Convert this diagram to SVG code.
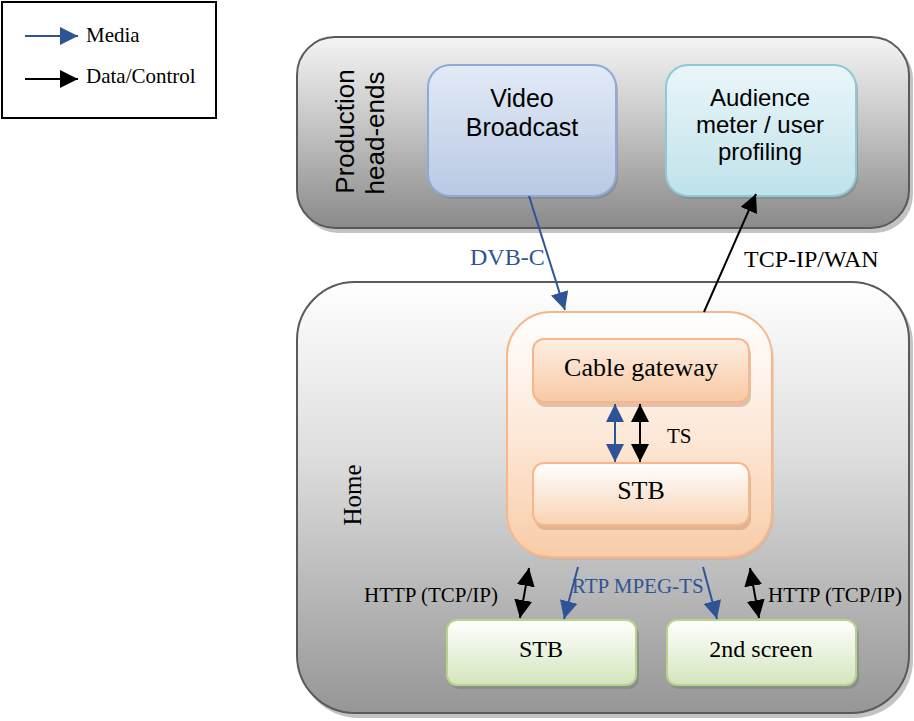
<svg xmlns="http://www.w3.org/2000/svg" width="914" height="721" viewBox="0 0 914 721">
<defs>
  <linearGradient id="gGray" x1="0" y1="0" x2="0" y2="1">
    <stop offset="0" stop-color="#f4f4f4"/>
    <stop offset="0.45" stop-color="#c6c6c6"/>
    <stop offset="1" stop-color="#8a8a8a"/>
  </linearGradient>
  <linearGradient id="gHome" x1="0" y1="0" x2="0" y2="1">
    <stop offset="0" stop-color="#ffffff"/>
    <stop offset="0.4" stop-color="#dedede"/>
    <stop offset="1" stop-color="#969696"/>
  </linearGradient>
  <linearGradient id="gBlue" x1="0" y1="0" x2="0" y2="1">
    <stop offset="0" stop-color="#e2eaf6"/>
    <stop offset="1" stop-color="#b9c9e4"/>
  </linearGradient>
  <linearGradient id="gCyan" x1="0" y1="0" x2="0" y2="1">
    <stop offset="0" stop-color="#eaf6f9"/>
    <stop offset="1" stop-color="#bfe2ea"/>
  </linearGradient>
  <linearGradient id="gOrangeOuter" x1="0" y1="0" x2="0" y2="1">
    <stop offset="0" stop-color="#ffffff"/>
    <stop offset="0.5" stop-color="#fde8d8"/>
    <stop offset="1" stop-color="#f9cca8"/>
  </linearGradient>
  <linearGradient id="gOrange" x1="0" y1="0" x2="0" y2="1">
    <stop offset="0" stop-color="#fdefe4"/>
    <stop offset="1" stop-color="#f8c8a2"/>
  </linearGradient>
  <linearGradient id="gOrange2" x1="0" y1="0" x2="0" y2="1">
    <stop offset="0" stop-color="#ffffff"/>
    <stop offset="1" stop-color="#f9d2b3"/>
  </linearGradient>
  <linearGradient id="gGreen" x1="0" y1="0" x2="0" y2="1">
    <stop offset="0" stop-color="#ffffff"/>
    <stop offset="1" stop-color="#d3e5bc"/>
  </linearGradient>
  <marker id="mBlueL" viewBox="0 0 10 10" refX="10" refY="5" markerWidth="9" markerHeight="9" orient="auto-start-reverse" markerUnits="strokeWidth">
    <path d="M0,0 L10,5 L0,10 z" fill="#2f5496"/>
  </marker>
  <marker id="mBlackL" viewBox="0 0 10 10" refX="10" refY="5" markerWidth="9" markerHeight="9" orient="auto-start-reverse" markerUnits="strokeWidth">
    <path d="M0,0 L10,5 L0,10 z" fill="#000"/>
  </marker>
</defs>
<style>
  .serif { font-family: "Liberation Serif", "Times New Roman", serif; }
  .sans { font-family: "Liberation Sans", Arial, sans-serif; }
  .shadow { fill: #7a7a7a; opacity: 0.45; }
  .media { stroke: #2f5496; stroke-width: 2; fill: none; }
  .data { stroke: #000; stroke-width: 2; fill: none; }
  .blue { fill: #2f5496; }
</style>

<g id="legend">
  <rect x="2" y="2" width="214" height="116" fill="#fff" stroke="#000" stroke-width="2"/>
  <line x1="25" y1="36" x2="78" y2="36" class="media" marker-end="url(#mBlueL)"/>
  <text x="86" y="42" class="serif" font-size="21" fill="#000">Media</text>
  <line x1="25" y1="79" x2="78" y2="79" class="data" marker-end="url(#mBlackL)"/>
  <text x="86" y="83" class="serif" font-size="21" fill="#000">Data/Control</text>
</g>

<g id="production">
  <rect x="300" y="41" width="613" height="192" rx="38" class="shadow"/>
  <rect x="297" y="37" width="612" height="191" rx="38" fill="url(#gGray)" stroke="#5a5a5a" stroke-width="2"/>
  <text transform="translate(354,131.5) rotate(-90)" text-anchor="middle" class="sans" font-size="26" fill="#000">Production</text>
  <text transform="translate(384,133) rotate(-90)" text-anchor="middle" class="sans" font-size="26" fill="#000">head-ends</text>
</g>

<g id="video-broadcast">
  <rect x="430" y="68" width="188" height="131" rx="22" class="shadow"/>
  <rect x="428" y="65" width="188" height="131" rx="22" fill="url(#gBlue)" stroke="#8eaad6" stroke-width="2"/>
  <text x="522" y="107" text-anchor="middle" class="sans" font-size="25" fill="#000">Video</text>
  <text x="522" y="136" text-anchor="middle" class="sans" font-size="25" fill="#000">Broadcast</text>
</g>

<g id="audience">
  <rect x="668" y="68" width="190" height="131" rx="22" class="shadow"/>
  <rect x="666" y="65" width="190" height="131" rx="22" fill="url(#gCyan)" stroke="#8ecad6" stroke-width="2"/>
  <text x="760" y="106" text-anchor="middle" class="sans" font-size="24" fill="#000">Audience</text>
  <text x="760" y="133" text-anchor="middle" class="sans" font-size="24" fill="#000">meter / user</text>
  <text x="760" y="160" text-anchor="middle" class="sans" font-size="24" fill="#000">profiling</text>
</g>

<g id="home">
  <rect x="300" y="286" width="613" height="432" rx="58" class="shadow"/>
  <rect x="297" y="282" width="612" height="431" rx="58" fill="url(#gHome)" stroke="#5a5a5a" stroke-width="2"/>
  <text transform="translate(361,495) rotate(-90)" text-anchor="middle" class="serif" font-size="25" fill="#000">Home</text>
</g>

<g id="gateway-container">
  <rect x="509" y="315" width="265" height="245" rx="44" fill="#d9a98a" opacity="0.4"/>
  <rect x="507" y="312" width="265" height="245" rx="44" fill="url(#gOrangeOuter)" stroke="#f7b78a" stroke-width="2"/>
</g>

<g id="cable-gateway">
  <rect x="535" y="344" width="216" height="63" rx="11" fill="#c79a7a" opacity="0.55"/>
  <rect x="533" y="339" width="216" height="63" rx="11" fill="url(#gOrange)" stroke="#f7b78a" stroke-width="2"/>
  <text x="641" y="376" text-anchor="middle" class="serif" font-size="26" fill="#000">Cable gateway</text>
</g>

<g id="stb-inner">
  <rect x="535" y="468" width="216" height="62" rx="11" fill="#c79a7a" opacity="0.55"/>
  <rect x="533" y="463" width="216" height="62" rx="11" fill="url(#gOrange2)" stroke="#f7b78a" stroke-width="2"/>
  <text x="641" y="499" text-anchor="middle" class="serif" font-size="26" fill="#000">STB</text>
</g>

<g id="stb">
  <rect x="449" y="624" width="190" height="65" rx="10" class="shadow"/>
  <rect x="447" y="620" width="189" height="65" rx="10" fill="url(#gGreen)" stroke="#b7d38c" stroke-width="2"/>
  <text x="541" y="657" text-anchor="middle" class="serif" font-size="24" fill="#000">STB</text>
</g>

<g id="second-screen">
  <rect x="669" y="624" width="190" height="65" rx="10" class="shadow"/>
  <rect x="667" y="620" width="189" height="65" rx="10" fill="url(#gGreen)" stroke="#b7d38c" stroke-width="2"/>
  <text x="761" y="657" text-anchor="middle" class="serif" font-size="24" fill="#000">2nd screen</text>
</g>

<g id="connectors">
  <line x1="529" y1="196" x2="565" y2="310" class="media" marker-end="url(#mBlueL)"/>
  <text x="470" y="265" class="serif blue" font-size="24">DVB-C</text>
  <line x1="704" y1="312" x2="756" y2="194" class="data" marker-end="url(#mBlackL)"/>
  <text x="744" y="267" class="serif" font-size="24" fill="#000">TCP-IP/WAN</text>

  <line x1="615" y1="404" x2="615" y2="462" class="media" marker-start="url(#mBlueL)" marker-end="url(#mBlueL)"/>
  <line x1="640" y1="404" x2="640" y2="462" class="data" marker-start="url(#mBlackL)" marker-end="url(#mBlackL)"/>
  <text x="667" y="443" class="serif" font-size="21" fill="#000">TS</text>

  <line x1="529" y1="568" x2="520" y2="618" class="data" marker-start="url(#mBlackL)" marker-end="url(#mBlackL)"/>
  <line x1="578" y1="567" x2="564" y2="619" class="media" marker-end="url(#mBlueL)"/>
  <line x1="703" y1="567" x2="717" y2="619" class="media" marker-end="url(#mBlueL)"/>
  <line x1="750" y1="568" x2="759" y2="618" class="data" marker-start="url(#mBlackL)" marker-end="url(#mBlackL)"/>
  <text x="364" y="602" class="serif" font-size="21" fill="#000">HTTP (TCP/IP)</text>
  <text x="572" y="593" class="serif blue" font-size="21">RTP MPEG-TS</text>
  <text x="768" y="602" class="serif" font-size="21" fill="#000">HTTP (TCP/IP)</text>
</g>
</svg>
